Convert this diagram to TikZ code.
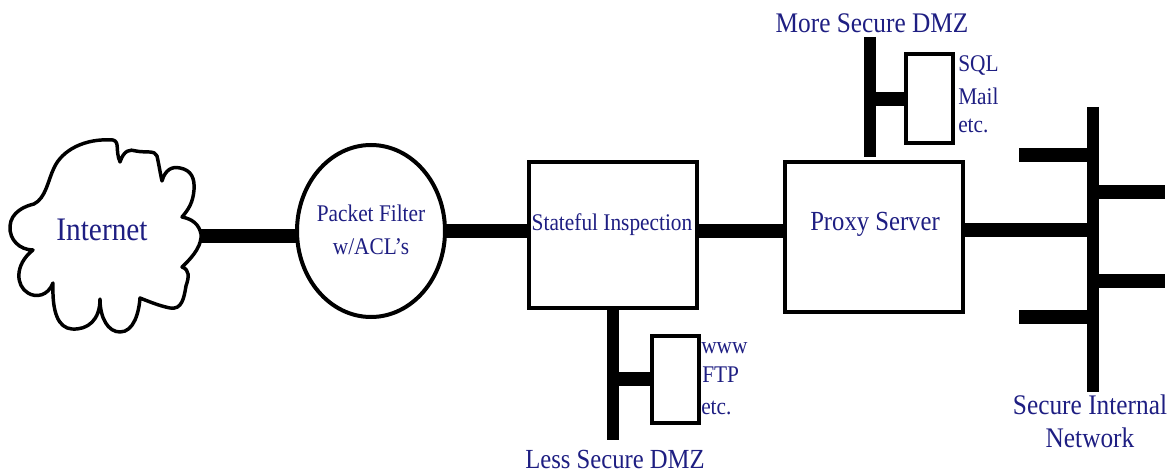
\documentclass[tikz,border=0pt]{standalone}
\usepackage{fontspec}
\usetikzlibrary{shapes.geometric}
\setmainfont{Liberation Serif}
\definecolor{lbl}{HTML}{1E1E82}
\newcommand{\fs}[1]{\fontsize{#1}{#1}\selectfont}
\tikzset{
 bar/.style={line width=10.5pt,draw=black,line cap=butt},
 vbar/.style={line width=9pt,draw=black,line cap=butt},
 bx/.style={draw=black,line width=3pt,fill=white,rectangle,inner sep=0pt},
 lab/.style={text=lbl,inner sep=0pt,align=center,yscale=1.12,transform shape},
 side/.style={text=lbl,inner sep=0pt,anchor=west,font=\fs{16},yscale=1.12,transform shape},
}
\begin{document}
\begin{tikzpicture}[x=0.75pt,y=-0.75pt]
\useasboundingbox (0,0) rectangle (1171,474);
% free ends and bus points
\coordinate (cloudE) at (199,236);
\coordinate (busT) at (1093,107);
\coordinate (busB) at (1093,392);
\coordinate (busM) at (1093,230);
\coordinate (busA) at (1093,155);
\coordinate (busC) at (1093,192);
\coordinate (busD) at (1093,281);
\coordinate (busE) at (1093,317);
\coordinate (endA) at (1019,155);
\coordinate (endC) at (1165,192);
\coordinate (endD) at (1165,281);
\coordinate (endE) at (1019,317);
\coordinate (lessT) at (613,306);
\coordinate (lessB) at (613,440);
\coordinate (lessM) at (613,379);
\coordinate (moreT) at (870,37);
\coordinate (moreB) at (870,157);
\coordinate (moreM) at (870,99);
% connectors (under the shapes)
\draw[bar] (cloudE) -- (300,236) coordinate (pfW);
\draw[bar] (445,231) -- (530,231);
\draw[bar] (695,231) -- (787,231);
\draw[bar] (961,230) -- (busM);
\draw[vbar] (busT) -- (busB);
\draw[bar] (endA) -- (busA);
\draw[bar] (busC) -- (endC);
\draw[bar] (busD) -- (endD);
\draw[bar] (endE) -- (busE);
\draw[vbar] (lessT) -- (lessB);
\draw[vbar] (moreT) -- (moreB);
\draw[bar] (lessM) -- (654,379);
\draw[bar] (moreM) -- (908,99);
% cloud
\draw[line width=2.6pt,fill=white,line join=round]
 (120,162)
 .. controls (124,150) and (130,149) .. (136,151)
 .. controls (146,153) and (155,150) .. (157,156)
 .. controls (159,165) and (160,172) .. (162,181)
 .. controls (165,170) and (172,166) .. (180,168)
 .. controls (191,170) and (195,178) .. (194,190)
 .. controls (193,202) and (189,209) .. (182,217)
 .. controls (192,219) and (199,224) .. (201,234)
 .. controls (202,244) and (195,255) .. (182,267)
 .. controls (190,270) and (189,277) .. (186,286)
 .. controls (184,298) and (182,310) .. (170,308)
 .. controls (160,306) and (150,302) .. (140,298)
 .. controls (139,312) and (134,332) .. (120,332)
 .. controls (108,332) and (100,318) .. (100,299)
 .. controls (100,320) and (88,330) .. (72,329)
 .. controls (58,328) and (52,312) .. (53,283)
 .. controls (48,296) and (36,298) .. (28,293)
 .. controls (16,286) and (14,265) .. (33,250)
 .. controls (20,250) and (9,240) .. (10,226)
 .. controls (11,212) and (25,206) .. (34,204)
 .. controls (46,198) and (48,180) .. (54,168)
 .. controls (62,150) and (85,138) .. (113,140)
 .. controls (120,142) and (115,150) .. (120,162) -- cycle;
% shapes
\node[bx,ellipse,minimum width=111pt,minimum height=129pt] (pf) at (371,231) {};
\node[bx,minimum width=126pt,minimum height=109pt] (si) at (612.5,235) {};
\node[bx,minimum width=133.5pt,minimum height=112pt] (ps) at (874,237) {};
\node[bx,minimum width=35pt,minimum height=65pt] (b1) at (675.5,379.5) {};
\node[bx,minimum width=35pt,minimum height=67pt] (b2) at (929.5,98.5) {};
% labels
\node[lab,font=\fs{22}] (tInternet) at (102,230) {Internet};
\node[lab,font=\fs{16}] (tPf) at (371,230) {Packet Filter\\[6pt]w/ACL's};
\node[lab,font=\fs{16}] (tSi) at (612,225) {Stateful Inspection};
\node[lab,font=\fs{18.5}] (tPs) at (875,224) {Proxy Server};
\node[lab,font=\fs{19}] (tMore) at (872,23) {More Secure DMZ};
\node[lab,font=\fs{18.5}] (tLess) at (615,459) {Less Secure DMZ};
\node[lab,font=\fs{19},align=center] (tSec) at (1090,421) {Secure Internal\\[3pt]Network};
\node[side] (s1) at (958,66) {SQL};
\node[side] (s2) at (958,96) {Mail};
\node[side] (s3) at (958,126) {etc.};
\node[side] (w1) at (701,348) {www};
\node[side] (w2) at (702,375) {FTP};
\node[side] (w3) at (701,408) {etc.};
\end{tikzpicture}
\end{document}
